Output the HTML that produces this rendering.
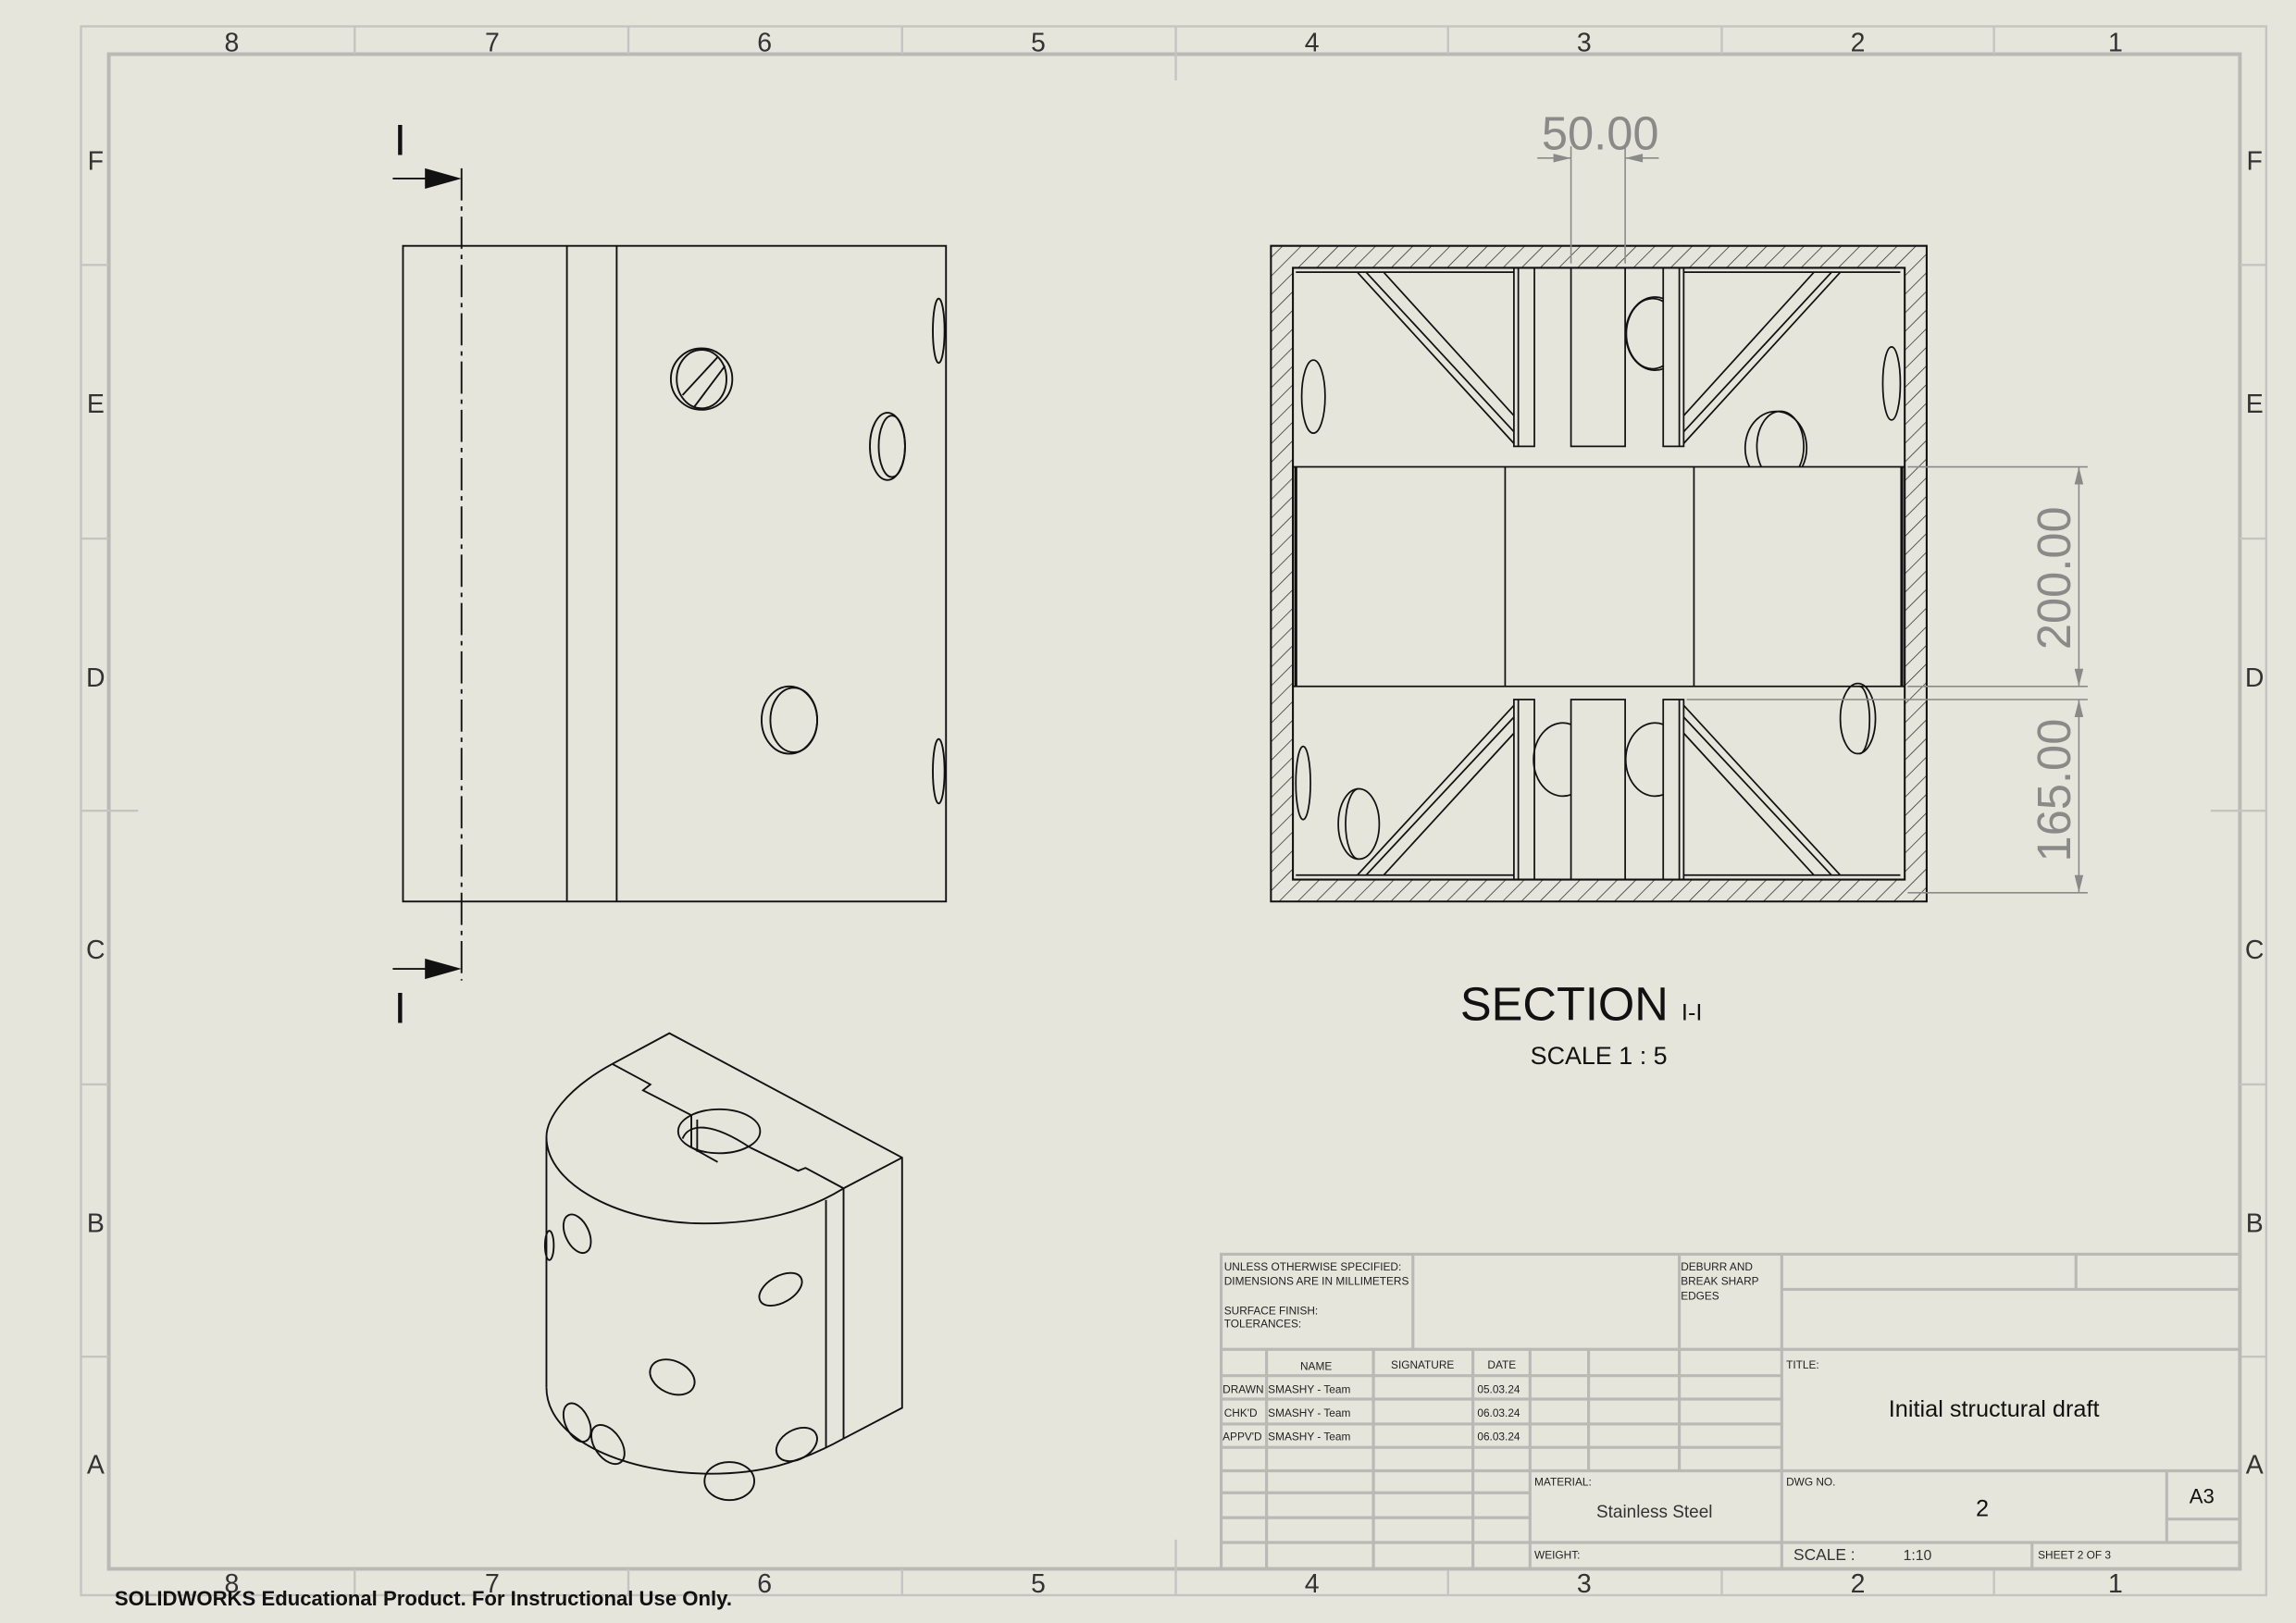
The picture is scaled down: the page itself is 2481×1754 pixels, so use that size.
<!DOCTYPE html>
<html><head><meta charset="utf-8"><style>
html,body{margin:0;padding:0;background:#e6e5dc;}
svg{display:block;}
text{font-family:"Liberation Sans","DejaVu Sans",sans-serif;}
</style></head><body>
<svg width="2481" height="1754" viewBox="0 0 1568 1109" xmlns="http://www.w3.org/2000/svg">
<defs>
<pattern id="h" width="9" height="9" patternUnits="userSpaceOnUse" patternTransform="rotate(45)">
<rect width="9" height="9" fill="#e6e5dc"/><line x1="0" y1="0" x2="0" y2="9" stroke="#222" stroke-width="0.9"/>
</pattern>
</defs>
<rect width="1568" height="1109" fill="#e6e5dc"/>
<rect x="55" y="18" width="1493" height="1072" fill="none" stroke="#c4c4c0" stroke-width="1.5"/>
<rect x="74" y="37" width="1456" height="1035" fill="none" stroke="#b9b9b5" stroke-width="2.5"/>
<g stroke="#c4c4c0" stroke-width="1.5">
<line x1="242" y1="18" x2="242" y2="37"/><line x1="429" y1="18" x2="429" y2="37"/><line x1="616" y1="18" x2="616" y2="37"/><line x1="803" y1="18" x2="803" y2="55"/><line x1="989" y1="18" x2="989" y2="37"/><line x1="1176" y1="18" x2="1176" y2="37"/><line x1="1362" y1="18" x2="1362" y2="37"/>
<line x1="242" y1="1072" x2="242" y2="1090"/><line x1="429" y1="1072" x2="429" y2="1090"/><line x1="616" y1="1072" x2="616" y2="1090"/><line x1="803" y1="1052" x2="803" y2="1090"/><line x1="989" y1="1072" x2="989" y2="1090"/><line x1="1176" y1="1072" x2="1176" y2="1090"/><line x1="1362" y1="1072" x2="1362" y2="1090"/>
<line x1="55" y1="181" x2="74" y2="181"/><line x1="55" y1="368" x2="74" y2="368"/><line x1="55" y1="554" x2="94" y2="554"/><line x1="55" y1="741" x2="74" y2="741"/><line x1="55" y1="927" x2="74" y2="927"/>
<line x1="1530" y1="181" x2="1548" y2="181"/><line x1="1530" y1="368" x2="1548" y2="368"/><line x1="1510" y1="554" x2="1548" y2="554"/><line x1="1530" y1="741" x2="1548" y2="741"/><line x1="1530" y1="927" x2="1548" y2="927"/>
</g>
<g font-size="18" fill="#333" text-anchor="middle">
<text x="158" y="35">8</text><text x="336" y="35">7</text><text x="522" y="35">6</text><text x="709" y="35">5</text><text x="896" y="35">4</text><text x="1082" y="35">3</text><text x="1269" y="35">2</text><text x="1445" y="35">1</text>
<text x="158" y="1088">8</text><text x="336" y="1088">7</text><text x="522" y="1088">6</text><text x="709" y="1088">5</text><text x="896" y="1088">4</text><text x="1082" y="1088">3</text><text x="1269" y="1088">2</text><text x="1445" y="1088">1</text>
<text x="65" y="116">F</text><text x="65" y="282">E</text><text x="65" y="469">D</text><text x="65" y="655">C</text><text x="65" y="842">B</text><text x="65" y="1007">A</text>
<text x="1540" y="116">F</text><text x="1540" y="282">E</text><text x="1540" y="469">D</text><text x="1540" y="655">C</text><text x="1540" y="842">B</text><text x="1540" y="1007">A</text>
</g>

<g stroke="#111" stroke-width="1.2" fill="none">
<rect x="275" y="168" width="371" height="448"/>
<line x1="387" y1="168" x2="387" y2="616"/><line x1="421" y1="168" x2="421" y2="616"/>
<line x1="315" y1="115" x2="315" y2="670" stroke-dasharray="22,4,3,4"/>
<circle cx="479" cy="259" r="21"/><ellipse cx="479" cy="259" rx="17" ry="20"/>
<line x1="474" y1="278" x2="495" y2="250"/><line x1="466" y1="270" x2="490" y2="244"/>
<ellipse cx="606" cy="305" rx="12" ry="23"/><ellipse cx="609" cy="305" rx="9" ry="21"/>
<ellipse cx="641" cy="226" rx="4" ry="22"/><ellipse cx="641" cy="527" rx="4" ry="22"/>
<ellipse cx="539" cy="492" rx="19" ry="23"/><ellipse cx="542" cy="492" rx="16" ry="22"/>
<line x1="268" y1="122" x2="292" y2="122"/><line x1="268" y1="662" x2="292" y2="662"/>
</g>
<polygon points="290,115 315,122 290,129" fill="#111"/>
<polygon points="290,655 315,662 290,669" fill="#111"/>
<text x="273" y="106" font-size="30" text-anchor="middle" fill="#111">I</text>
<text x="273" y="699" font-size="30" text-anchor="middle" fill="#111">I</text>

<path d="M868,168H1316V616H868Z M883,183V601H1301V183Z" fill="url(#h)" fill-rule="evenodd" stroke="#111" stroke-width="1.3"/>
<g stroke="#111" stroke-width="1.1" fill="none">
<rect x="883" y="319" width="418" height="150"/>
<line x1="885" y1="319" x2="885" y2="469" stroke-width="2"/><line x1="1299" y1="319" x2="1299" y2="469" stroke-width="2"/>
<line x1="1028" y1="319" x2="1028" y2="469"/><line x1="1157" y1="319" x2="1157" y2="469"/>
<line x1="885" y1="186" x2="1034" y2="186"/><line x1="1150" y1="186" x2="1298" y2="186"/>
<line x1="885" y1="598" x2="1034" y2="598"/><line x1="1150" y1="598" x2="1298" y2="598"/>
<rect x="1034" y="183" width="14" height="122"/><line x1="1037" y1="183" x2="1037" y2="305"/>
<rect x="1073" y="183" width="37" height="122"/>
<rect x="1136" y="183" width="14" height="122"/><line x1="1147" y1="183" x2="1147" y2="305"/>
<rect x="1034" y="478" width="14" height="123"/><line x1="1037" y1="478" x2="1037" y2="601"/>
<rect x="1073" y="478" width="37" height="123"/>
<rect x="1136" y="478" width="14" height="123"/><line x1="1147" y1="478" x2="1147" y2="601"/>
<path d="M927,186L1034,303M933,186L1034,295M945,186L1034,284"/>
<path d="M1257,186L1150,303M1251,186L1150,295M1239,186L1150,284"/>
<path d="M927,598L1034,482M933,598L1034,490M945,598L1034,501"/>
<path d="M1257,598L1150,482M1251,598L1150,490M1239,598L1150,501"/>
<ellipse cx="897" cy="271" rx="8" ry="25"/>
<ellipse cx="1292" cy="262" rx="6" ry="25"/>
<path d="M1136,204A20,25 0 1 0 1136,252"/><path d="M1136,206A18,24 0 1 0 1136,250"/>
<path d="M1073,495A20,25 0 1 0 1073,543"/>
<path d="M1136,495A20,25 0 1 0 1136,543"/>
<path d="M1195,319A21,25 0 1 1 1231,319"/><path d="M1203,319A16,24 0 1 1 1229,319"/>
<ellipse cx="1269" cy="491" rx="12" ry="24"/><path d="M1270,469A7,23 0 0 1 1270,515"/>
<ellipse cx="890" cy="535" rx="5" ry="25"/>
<ellipse cx="928" cy="563" rx="14" ry="24"/><path d="M928,539A9,24 0 0 0 928,587"/>
</g>
<g stroke="#8a8a88" stroke-width="1" fill="none">
<line x1="1073" y1="100" x2="1073" y2="180"/><line x1="1110" y1="100" x2="1110" y2="180"/>
<line x1="1050" y1="108" x2="1073" y2="108"/><line x1="1110" y1="108" x2="1133" y2="108"/>
<line x1="1303" y1="319" x2="1426" y2="319"/><line x1="1303" y1="469" x2="1426" y2="469"/>
<line x1="1152" y1="478" x2="1426" y2="478"/><line x1="1303" y1="610" x2="1426" y2="610"/>
<line x1="1420" y1="319" x2="1420" y2="469"/><line x1="1420" y1="478" x2="1420" y2="610"/>
</g>
<g fill="#8a8a88">
<polygon points="1073,108 1061,105 1061,111"/><polygon points="1110,108 1122,105 1122,111"/>
<polygon points="1420,319 1417,331 1423,331"/><polygon points="1420,469 1417,457 1423,457"/>
<polygon points="1420,478 1417,490 1423,490"/><polygon points="1420,610 1417,598 1423,598"/>
</g>
<text x="1093" y="102" font-size="32" fill="#8a8a88" text-anchor="middle">50.00</text>
<text transform="translate(1414,395) rotate(-90)" font-size="32" fill="#8a8a88" text-anchor="middle">200.00</text>
<text transform="translate(1414,540) rotate(-90)" font-size="32" fill="#8a8a88" text-anchor="middle">165.00</text>
<text x="1080" y="697" font-size="32" fill="#111" text-anchor="middle">SECTION <tspan font-size="16">I-I</tspan></text>
<text x="1092" y="727" font-size="17" fill="#111" text-anchor="middle">SCALE 1 : 5</text>

<g stroke="#111" stroke-width="1.2" fill="none">
<path d="M418,727L457,706L616,791V962L576,983"/>
<path d="M576,812L616,791"/>
<line x1="576" y1="812" x2="576" y2="983"/>
<line x1="564" y1="820" x2="564" y2="989"/>
<path d="M418,727C385,745 373,765 373,777C373,810 425,836 480,836C520,836 550,828 576,812"/>
<line x1="373" y1="777" x2="373" y2="948"/>
<path d="M373,948C373,985 430,1007 485,1007C520,1007 545,1000 576,983"/>
<path d="M418,727L444,741L439,745L472,762"/>
<path d="M512,784L545,800L550,798L576,812"/>
<ellipse cx="491" cy="773" rx="28" ry="15"/>
<path d="M466,778C470,768 485,766 512,784"/><line x1="472" y1="762" x2="472" y2="784"/><line x1="476" y1="765" x2="476" y2="787"/><path d="M472,784L490,794"/>
<ellipse cx="394" cy="843" rx="8" ry="14" transform="rotate(-25 394 843)"/>
<ellipse cx="375" cy="851" rx="3" ry="10"/>
<ellipse cx="533" cy="881" rx="16" ry="9" transform="rotate(-30 533 881)"/>
<ellipse cx="459" cy="941" rx="16" ry="11" transform="rotate(25 459 941)"/>
<ellipse cx="394" cy="972" rx="8" ry="14" transform="rotate(-25 394 972)"/>
<ellipse cx="415" cy="987" rx="9" ry="15" transform="rotate(-35 415 987)"/>
<ellipse cx="498" cy="1012" rx="17" ry="13"/>
<ellipse cx="544" cy="987" rx="15" ry="10" transform="rotate(-30 544 987)"/>
</g>

<g stroke="#b9b9b5" stroke-width="2" fill="none">
<rect x="834" y="857" width="696" height="215"/>
<line x1="834" y1="922" x2="1530" y2="922"/>
<line x1="965" y1="857" x2="965" y2="922"/><line x1="1147" y1="857" x2="1147" y2="922"/><line x1="1217" y1="857" x2="1217" y2="1072"/>
<line x1="1217" y1="881" x2="1530" y2="881"/><line x1="1418" y1="857" x2="1418" y2="881"/>
<line x1="834" y1="940" x2="1217" y2="940"/><line x1="834" y1="956" x2="1217" y2="956"/><line x1="834" y1="973" x2="1217" y2="973"/><line x1="834" y1="989" x2="1217" y2="989"/><line x1="834" y1="1005" x2="1530" y2="1005"/>
<line x1="834" y1="1020" x2="1045" y2="1020"/><line x1="834" y1="1037" x2="1045" y2="1037"/><line x1="834" y1="1054" x2="1530" y2="1054"/>
<line x1="865" y1="922" x2="865" y2="1072"/><line x1="938" y1="922" x2="938" y2="1072"/><line x1="1006" y1="922" x2="1006" y2="1072"/><line x1="1045" y1="922" x2="1045" y2="1072"/>
<line x1="1085" y1="922" x2="1085" y2="1005"/><line x1="1147" y1="922" x2="1147" y2="1005"/>
<line x1="1480" y1="1005" x2="1480" y2="1054"/><line x1="1480" y1="1038" x2="1530" y2="1038"/><line x1="1388" y1="1054" x2="1388" y2="1072"/>
</g>
<g fill="#222" font-size="7.5">
<text x="836" y="868">UNLESS OTHERWISE SPECIFIED:</text>
<text x="836" y="878">DIMENSIONS ARE IN MILLIMETERS</text>
<text x="836" y="898">SURFACE FINISH:</text>
<text x="836" y="907">TOLERANCES:</text>
<text x="1148" y="868">DEBURR AND</text><text x="1148" y="878">BREAK SHARP</text><text x="1148" y="888">EDGES</text>
<text x="888" y="936">NAME</text><text x="950" y="935">SIGNATURE</text><text x="1016" y="935">DATE</text>
<text x="835" y="952">DRAWN</text><text x="866" y="952">SMASHY - Team</text><text x="1009" y="952">05.03.24</text>
<text x="836" y="968">CHK'D</text><text x="866" y="968">SMASHY - Team</text><text x="1009" y="968">06.03.24</text>
<text x="835" y="984">APPV'D</text><text x="866" y="984">SMASHY - Team</text><text x="1009" y="984">06.03.24</text>
<text x="1220" y="935">TITLE:</text>
<text x="1048" y="1015">MATERIAL:</text>
<text x="1220" y="1015">DWG NO.</text>
<text x="1048" y="1065">WEIGHT:</text>
<text x="1392" y="1065">SHEET 2 OF 3</text>
</g>
<text x="1362" y="968" font-size="16" fill="#111" text-anchor="middle">Initial structural draft</text>
<text x="1130" y="1037" font-size="12" fill="#333" text-anchor="middle">Stainless Steel</text>
<text x="1354" y="1036" font-size="16" fill="#111" text-anchor="middle">2</text>
<text x="1504" y="1027" font-size="14" fill="#111" text-anchor="middle">A3</text>
<text x="1225" y="1066" font-size="11" fill="#333">SCALE :</text>
<text x="1300" y="1066" font-size="10" fill="#333">1:10</text>
<text x="78" y="1097" font-size="14" font-weight="bold" fill="#111">SOLIDWORKS Educational Product. For Instructional Use Only.</text>
</svg>
</body></html>
